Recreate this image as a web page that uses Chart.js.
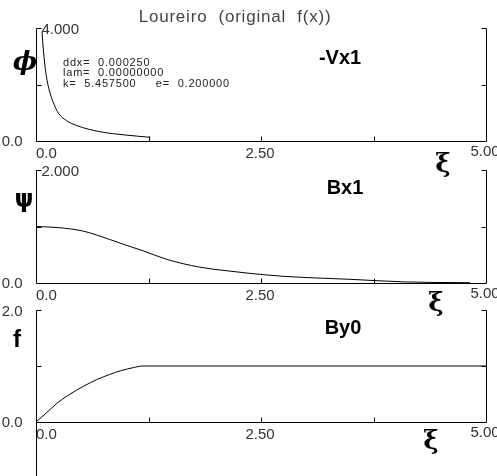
<!DOCTYPE html>
<html>
<head>
<meta charset="utf-8">
<script src="https://cdn.jsdelivr.net/npm/chart.js@4.4.0/dist/chart.umd.min.js"></script>
<style>
body { margin: 0; background: #fff; }
#wrap { position: relative; width: 497px; height: 476px; }
#wrap canvas { position: absolute; left: 0; top: 0; }
</style>
</head>
<body>
<div id="wrap">
  <canvas id="c1" width="497" height="476"></canvas>
  <canvas id="c2" width="497" height="476"></canvas>
  <canvas id="c3" width="497" height="476"></canvas>
</div>
<script>
// data
const phiX = [0.067, 0.08, 0.1, 0.12, 0.156, 0.2, 0.25, 0.34, 0.45, 0.58, 0.71, 0.85, 1.0, 1.13, 1.27];
const phiY = [3.86, 3.3, 2.65, 2.2, 1.7, 1.3, 0.98, 0.72, 0.55, 0.42, 0.33, 0.26, 0.21, 0.17, 0.13];

const psiX = [0, 0.25, 0.52, 0.82, 1.0, 1.19, 1.45, 1.82, 2.1, 2.38, 2.74, 3.1, 3.49, 3.8, 4.08, 4.4, 4.82];
const psiY = [1.0, 0.98, 0.92, 0.77, 0.67, 0.57, 0.42, 0.28, 0.22, 0.17, 0.12, 0.09, 0.065, 0.04, 0.02, 0.01, 0.005];

const fX = [0, 0.1, 0.23, 0.35, 0.53, 0.68, 0.82, 0.95, 1.08, 1.19, 5.0];
const fY = [0, 0.14, 0.33, 0.47, 0.64, 0.76, 0.85, 0.92, 0.97, 1.0, 1.0];

const xTicks = [0, 1.25, 2.5, 3.75, 5];
const xTickLabels = ["0.0", "", "2.50", "", "5.00"];

const labelFont = "15px 'Liberation Sans', Arial, sans-serif";

function pts(xs, ys) {
    return xs.map(function (x, i) { return { x: x, y: ys[i] }; });
}

// axes frame, inward ticks and tick labels
const framePlugin = {
    id: 'frame',
    afterDraw(chart, args, opts) {
        const ctx = chart.ctx;
        const xs = chart.scales.x;
        const ys = chart.scales.y;
        const L = Math.round(xs.left) + 0.5;
        const R = Math.round(xs.right) + 0.5;
        const T = Math.round(ys.top) + 0.5;
        const B = Math.round(ys.bottom) + 0.5;
        const M = Math.round(ys.getPixelForValue((ys.min + ys.max) / 2)) + 0.5;

        ctx.save();
        ctx.strokeStyle = '#000';
        ctx.lineWidth = 1;
        ctx.beginPath();
        // left axis
        ctx.moveTo(L, T); ctx.lineTo(L, opts.leftDown || B);
        ctx.moveTo(L, T); ctx.lineTo(L + 5, T);
        ctx.moveTo(L, M); ctx.lineTo(L + 5, M);
        // right axis
        ctx.moveTo(R, T); ctx.lineTo(R, B);
        ctx.moveTo(R, T); ctx.lineTo(R - 5, T);
        ctx.moveTo(R, M); ctx.lineTo(R - 5, M);
        // bottom axis
        ctx.moveTo(L, B); ctx.lineTo(R, B);
        xTicks.slice(1, -1).forEach(function (v) {
            const px = Math.round(xs.getPixelForValue(v)) + 0.5;
            ctx.moveTo(px, B); ctx.lineTo(px, B - 5);
        });
        ctx.stroke();

        ctx.fillStyle = '#333';
        ctx.font = labelFont;
        ctx.textBaseline = 'middle';
        // y labels
        if (opts.topLeft) {
            ctx.textAlign = 'right';
            ctx.fillText(opts.topLabel, L - 14, T + 1);
        } else {
            ctx.textAlign = 'left';
            ctx.fillText(opts.topLabel, L + 5, T + 1);
        }
        ctx.textAlign = 'right';
        ctx.fillText('0.0', L - 14, B);
        // x labels
        xTicks.forEach(function (v, i) {
            if (!xTickLabels[i]) return;
            const px = xs.getPixelForValue(v);
            ctx.textAlign = i === 0 ? 'left' : 'center';
            ctx.fillText(xTickLabels[i], i === 0 ? px : px - 1, B + 12 - (i === xTicks.length - 1 ? 2 : 0));
        });

        // axis symbols
        ctx.fillStyle = '#000';
        ctx.textAlign = 'center';
        ctx.font = opts.yFont;
        ctx.fillText(opts.ySym, opts.yPos[0], opts.yPos[1]);
        ctx.font = "bold 26px 'DejaVu Serif', serif";
        ctx.fillText('ξ', opts.xiPos[0], opts.xiPos[1]);
        ctx.font = "bold 20px 'Liberation Sans', Arial, sans-serif";
        ctx.fillText(opts.name, opts.namePos[0], opts.namePos[1]);

        if (opts.extra) opts.extra(ctx);
        ctx.restore();
    }
};

function makeChart(id, xsArr, ysArr, yMax, pad, frame) {
    return new Chart(document.getElementById(id), {
        type: 'line',
        data: {
            datasets: [{
                data: pts(xsArr, ysArr),
                borderColor: '#000',
                borderWidth: 1,
                pointRadius: 0,
                fill: false,
                clip: false,
                cubicInterpolationMode: 'monotone'
            }]
        },
        options: {
            responsive: false,
            animation: false,
            devicePixelRatio: 1,
            layout: { padding: pad },
            plugins: { legend: { display: false }, tooltip: { enabled: false }, frame: frame },
            scales: {
                x: { type: 'linear', min: 0, max: 5, display: false },
                y: { type: 'linear', min: 0, max: yMax, display: false }
            }
        },
        plugins: [framePlugin]
    });
}

makeChart('c1', phiX, phiY, 4, { left: 36, right: 11, top: 28, bottom: 335 }, {
    topLabel: '4.000',
    ySym: 'ϕ', yFont: "bold italic 26px 'DejaVu Serif', serif", yPos: [25, 63],
    xiPos: [443, 165], name: '-Vx1', namePos: [340, 58],
    extra: function (ctx) {
        ctx.fillStyle = '#444';
        ctx.font = "17px 'Liberation Sans', Arial, sans-serif";
        ctx.letterSpacing = '0.8px';
        ctx.fillText('Loureiro  (original  f(x))', 235, 17);
        ctx.fillStyle = '#222';
        ctx.textAlign = 'left';
        ctx.font = "11px 'Liberation Sans', Arial, sans-serif";
        ctx.letterSpacing = '0.8px';
        ctx.fillText('ddx=  0.000250', 63, 63);
        ctx.fillText('lam=  0.00000000', 63, 73);
        ctx.fillText('k=  5.457500     e=  0.200000', 63, 84);
        ctx.letterSpacing = '0px';
    }
});

makeChart('c2', psiX, psiY, 2, { left: 36, right: 11, top: 170, bottom: 193 }, {
    topLabel: '2.000',
    ySym: 'ψ', yFont: "bold 24px 'DejaVu Sans', sans-serif", yPos: [24, 201],
    xiPos: [436, 304], name: 'Bx1', namePos: [345, 188]
});

makeChart('c3', fX, fY, 2, { left: 36, right: 11, top: 310, bottom: 54 }, {
    topLabel: '2.0', topLeft: true, leftDown: 476,
    ySym: 'f', yFont: "bold 24px 'Liberation Sans', Arial, sans-serif", yPos: [17, 340],
    xiPos: [431, 442], name: 'By0', namePos: [343, 328]
});
</script>
</body>
</html>
